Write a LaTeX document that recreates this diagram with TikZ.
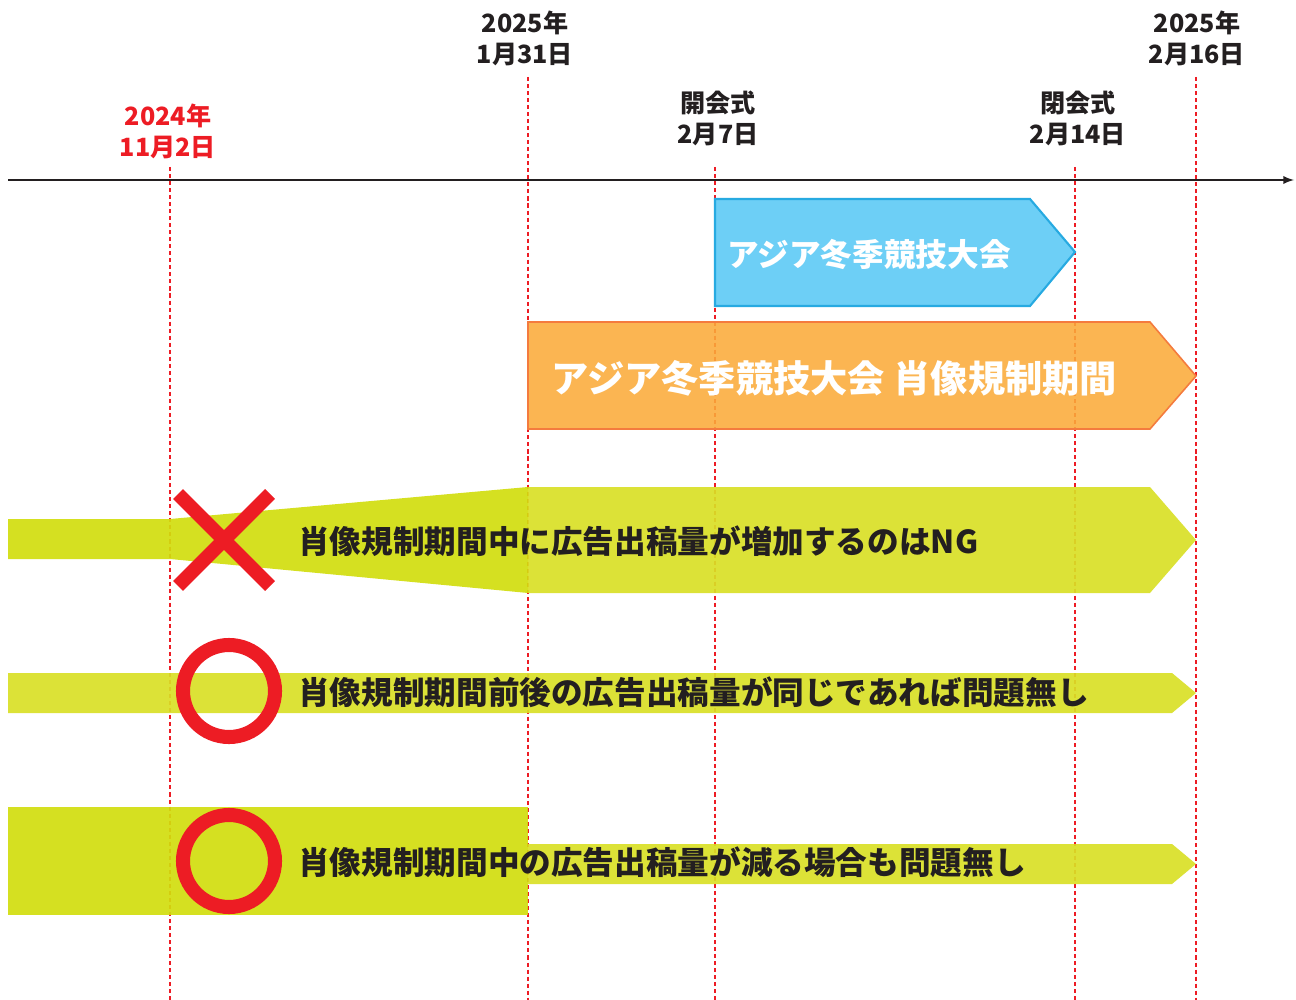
\documentclass[tikz,border=0pt]{standalone}
\usepackage{fontspec}
\setmainfont{Noto Sans CJK JP}
\usetikzlibrary{positioning}
\definecolor{ngred}{HTML}{ED1C24}
\definecolor{inkdark}{HTML}{231F20}
\definecolor{skyfill}{HTML}{59C8F5}
\definecolor{skyline}{HTML}{27AAE1}
\definecolor{orfill}{HTML}{FAAB3A}
\definecolor{orline}{HTML}{F47B3E}
\definecolor{limedark}{HTML}{D1DD0E}
\definecolor{limelight}{HTML}{D9DF26}
\tikzset{
  datelabel/.style={font=\fontsize{14.3}{17.6}\selectfont\bfseries, text=inkdark, align=center, inner sep=0pt},
  dayline/.style={ngred, line width=0.8pt, dash pattern=on 2.3pt off 1.7pt},
  rowtext/.style={font=\fontsize{18}{20}\selectfont\bfseries, text=inkdark, anchor=west, inner sep=0pt},
  mark ring/.style={ngred, line width=8pt},
}
\begin{document}
\begin{tikzpicture}[x=0.02cm, y=-0.02cm]
			\useasboundingbox (0,0) rectangle (1296,1000);
			% Date lines (under the bars)
			\foreach \x/\top in {170/167, 528/77, 715/167, 1075/167, 1196/77} {
					\draw[dayline] (\x,\top) -- (\x,1000);
				}
			% Event bars
			\filldraw[fill=skyfill, draw=skyline, line width=1.2pt, fill opacity=0.88] (715,199) -- (1030,199) -- (1075,252) -- (1030,306) -- (715,306) -- cycle;
			\filldraw[fill=orfill, draw=orline, line width=0.9pt, fill opacity=0.88] (528,322) -- (1150,322) -- (1196,376) -- (1150,429) -- (528,429) -- cycle;
			% Row 1: increase (NG)
			\fill[limedark, opacity=0.92] (8,519) -- (170,519) -- (528,487) -- (528,593) -- (170,559) -- (8,559) -- cycle;
			\fill[limelight, opacity=0.92] (528,487) -- (1150,487) -- (1196,540) -- (1150,593) -- (528,593) -- cycle;
			% Row 2: same volume
			\fill[limelight, opacity=0.92] (8,673) -- (1172,673) -- (1196,693) -- (1172,713) -- (8,713) -- cycle;
			% Row 3: decrease
			\fill[limedark, opacity=0.92] (8,807) rectangle (528,915);
			\fill[limelight, opacity=0.92] (528,844) -- (1172,844) -- (1196,864) -- (1172,884) -- (528,884) -- cycle;
			% Time axis
			\coordinate (axisL) at (8,180);
			\coordinate (axisR) at (1294,180);
			\draw[inkdark, line width=1.1pt, -latex] (axisL) -- (axisR);
			% Date labels
			\node[datelabel, text=ngred] (d1) at (168,131) {2024年\\11月2日};
			\node[datelabel] (d2) at (525,38) {2025年\\1月31日};
			\node[datelabel] (d3) at (718,118) {開会式\\2月7日};
			\node[datelabel] (d4) at (1078,118) {閉会式\\2月14日};
			\node[datelabel] (d5) at (1197,38) {2025年\\2月16日};
			% Bar titles
			\node[font=\fontsize{18}{20}\selectfont\bfseries, text=white, anchor=west, inner sep=0pt] (games) at (727,254) {アジア冬季競技大会};
			\node[font=\fontsize{21.2}{24}\selectfont\bfseries, text=white, anchor=west, inner sep=0pt] (period) at (551,378) {アジア冬季競技大会 肖像規制期間};
			% Marks
			\draw[ngred, line width=8pt] (178,494) -- (270,586);
			\draw[ngred, line width=8pt] (178,586) -- (270,494);
			\draw[mark ring] (229,691) circle (46);
			\draw[mark ring] (229,861) circle (46);
			% Row texts
			\node[rowtext] (row1) at (298,541) {肖像規制期間中に広告出稿量が増加するのはNG};
			\node[rowtext] (row2) at (298,692) {肖像規制期間前後の広告出稿量が同じであれば問題無し};
			\node[rowtext] (row3) at (298,862) {肖像規制期間中の広告出稿量が減る場合も問題無し};
		\end{tikzpicture}
\end{document}
